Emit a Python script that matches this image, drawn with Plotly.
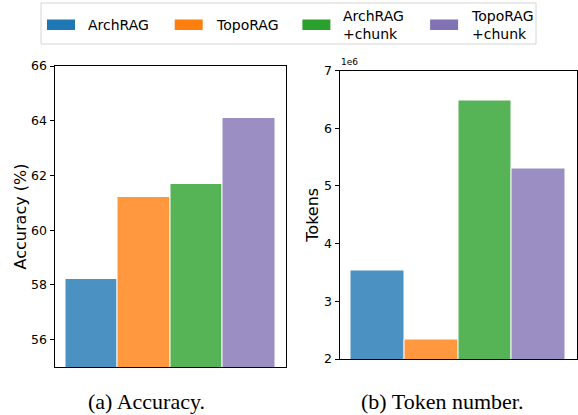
import plotly.graph_objects as go

# ---- data ----
methods = ["ArchRAG", "TopoRAG", "ArchRAG+chunk", "TopoRAG+chunk"]
legend_labels = ["ArchRAG", "TopoRAG", "ArchRAG<br>+chunk", "TopoRAG<br>+chunk"]
accuracy = [58.2, 61.2, 61.7, 64.1]
tokens = [3.53e6, 2.34e6, 6.48e6, 5.30e6]
colors = ["#1f77b4", "#ff7f0e", "#2ca02c", "#8172b3"]
acc_ticks = [56, 58, 60, 62, 64, 66]
token_ticks = [2e6, 3e6, 4e6, 5e6, 6e6, 7e6]
token_tick_labels = ["2", "3", "4", "5", "6", "7"]
captions = ["(a) Accuracy.", "(b) Token number."]

W, H = 578, 415
def px(x):
    return x / W
def py(y):
    return 1 - y / H

FONT = "DejaVu Sans"

fig = go.Figure()
bar_marker = dict(color=colors, opacity=0.8, line=dict(color="white", width=1))
fig.add_trace(go.Bar(x=methods, y=accuracy, marker=bar_marker, xaxis="x", yaxis="y",
                     showlegend=False, hoverinfo="x+y"))
fig.add_trace(go.Bar(x=methods, y=tokens, marker=bar_marker, xaxis="x2", yaxis="y2",
                     showlegend=False, hoverinfo="x+y"))

axis_common = dict(showline=True, mirror=True, linecolor="black", linewidth=1,
                   showgrid=False, zeroline=False, automargin=False)
tickfont = dict(family=FONT, size=12.5, color="black")
titlefont = dict(family=FONT, size=16, color="black")

fig.update_layout(
    width=W, height=H,
    margin=dict(l=0, r=0, t=0, b=0, autoexpand=False),
    paper_bgcolor="white", plot_bgcolor="white",
    bargap=0, showlegend=False,
    xaxis=dict(domain=[px(54.5), px(286)], anchor="y", range=[-0.71, 3.71],
               showticklabels=False, ticks="", **axis_common),
    yaxis=dict(domain=[py(367), py(66)], anchor="x", range=[55, 66],
               tickvals=acc_ticks, ticks="outside", ticklen=4, tickcolor="black",
               tickfont=tickfont,
               title=dict(text="Accuracy (%)", font=titlefont, standoff=0),
               **axis_common),
    xaxis2=dict(domain=[px(339.5), px(577)], anchor="y2", range=[-0.71, 3.71],
                showticklabels=False, ticks="", **axis_common),
    yaxis2=dict(domain=[py(359), py(70.5)], anchor="x2", range=[2e6, 7e6],
                tickvals=token_ticks, ticktext=token_tick_labels,
                ticks="outside", ticklen=4, tickcolor="black", tickfont=tickfont,
                title=dict(text="Tokens", font=titlefont, standoff=1),
                **axis_common),
)

shapes = []
annotations = []
# legend box
shapes.append(dict(type="rect", xref="paper", yref="paper",
                   x0=px(41), x1=px(536), y0=py(44), y1=py(3),
                   line=dict(color="#d4d4d4", width=1), fillcolor="white"))
step = 127.7
for i, (lab, col) in enumerate(zip(legend_labels, colors)):
    sx = 47 + i * step
    shapes.append(dict(type="rect", xref="paper", yref="paper",
                       x0=px(sx), x1=px(sx + 28), y0=py(30), y1=py(19.5),
                       line=dict(width=0), fillcolor=col))
    annotations.append(dict(xref="paper", yref="paper", x=px(sx + 39), y=py(24.5),
                            text=lab, showarrow=False, xanchor="left", yanchor="middle",
                            align="left",
                            font=dict(family=FONT, size=14, color="black")))

# scale factor label
annotations.append(dict(xref="paper", yref="paper", x=px(338.5), y=py(69),
                        text="1e6", showarrow=False, xanchor="left", yanchor="bottom",
                        font=dict(family=FONT, size=9, color="black")))

# captions
for cx, cap in zip([146.5, 442], captions):
    annotations.append(dict(xref="paper", yref="paper", x=px(cx), y=py(401),
                            text=cap, showarrow=False, xanchor="center", yanchor="middle",
                            font=dict(family="Liberation Serif", size=22, color="black")))

fig.update_layout(shapes=shapes, annotations=annotations)
fig.write_html("out.html", config={"displayModeBar": False},
               post_script="document.body.style.margin='0px';")
